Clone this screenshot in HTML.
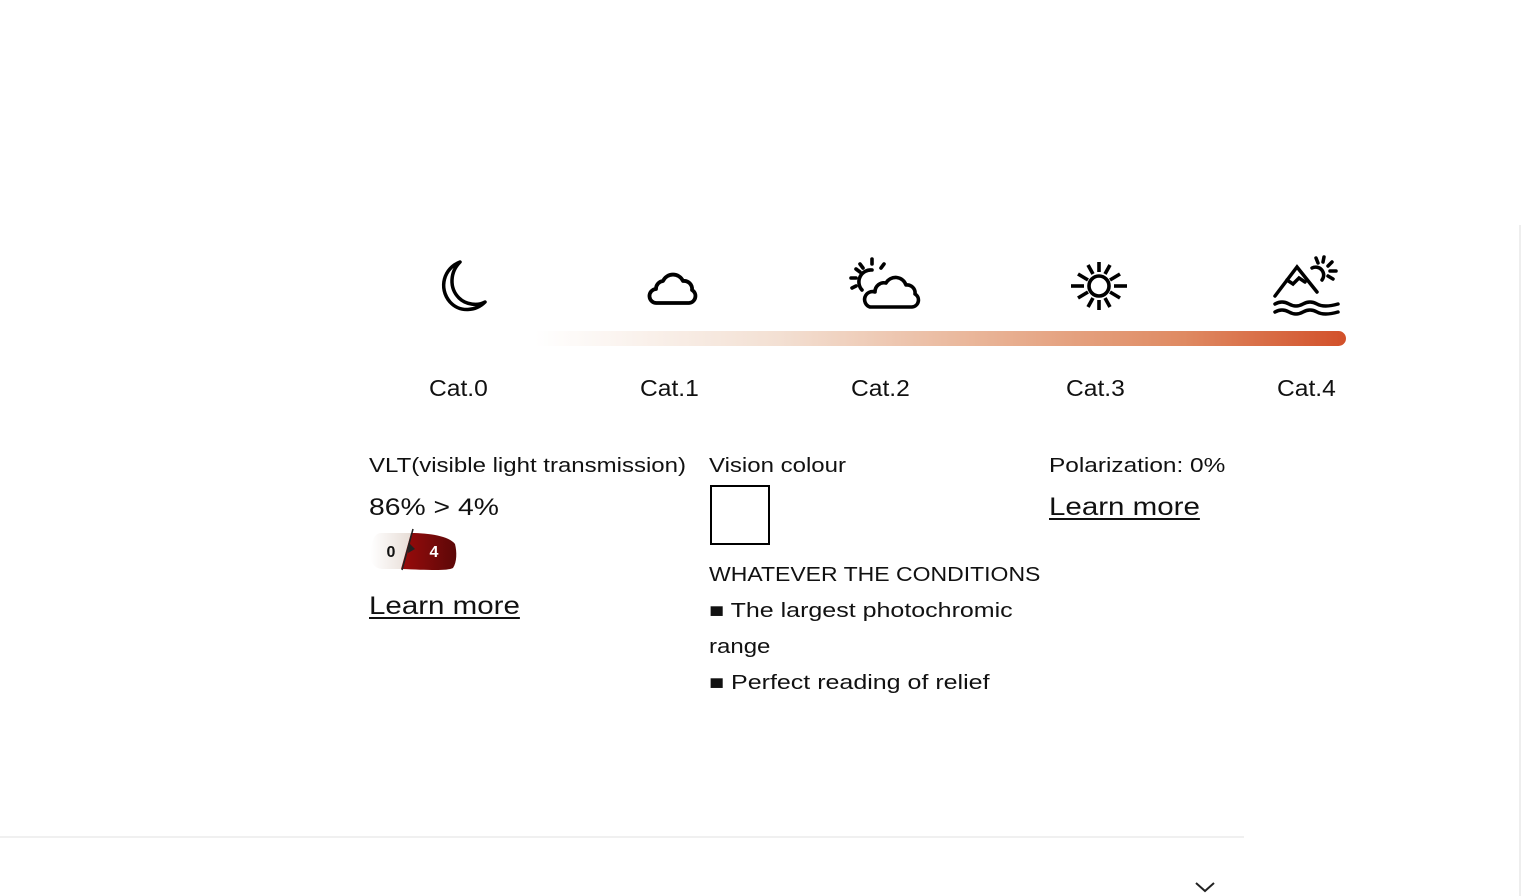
<!DOCTYPE html>
<html><head><style>
body{margin:0;width:1522px;height:896px;position:relative;background:#fff;font-family:"Liberation Sans",sans-serif;color:#111;overflow:hidden}
.a{position:absolute;white-space:nowrap;transform-origin:0 0}
.cat{font-size:23px;top:375px;transform:scaleX(1.07)}
.t{font-size:20px;transform:scaleX(1.2)}
.lm{font-size:25px;transform:scaleX(1.18)}
u{text-decoration:underline;text-decoration-thickness:2px;text-underline-offset:3px}
</style></head><body>
<div class="a" style="left:1519px;top:225px;width:2px;height:671px;background:#eee"></div>
<div class="a" style="left:0;top:836px;width:1244px;height:2px;background:#f0f0f0"></div>
<svg class="a" style="left:1194px;top:880px" width="22" height="14"><path d="M2 3 L11 11 L20 3" fill="none" stroke="#222" stroke-width="2"/></svg>

<div class="a" style="left:535px;top:331px;width:811px;height:15px;border-radius:0 8px 8px 0;background:linear-gradient(90deg,#fff,#f3e0d3 30%,#e9b497 55%,#df8a62 80%,#d2502a)"></div>

<svg class="a" style="left:436px;top:258px" width="56" height="58" viewBox="0 0 56 58"><path d="M24 4 C8 10 2 30 14 44 C24 55 40 53 49 44 C42 48 30 47 23 40 C13 30 14 14 24 4Z" fill="none" stroke="#000" stroke-width="3.5" stroke-linejoin="round"/></svg>
<svg class="a" style="left:645px;top:266px" width="54" height="44" viewBox="0 0 54 44"><path d="M12 37 H44 A7 7 0 0 0 47 24 A8 8 0 0 0 38 15 A11 11 0 0 0 18 15 A8 8 0 0 0 11 23 A7 7 0 0 0 12 37Z" fill="none" stroke="#000" stroke-width="3.8" stroke-linejoin="round"/></svg>
<svg class="a" style="left:848px;top:256px" width="74" height="58" viewBox="0 0 74 58"><g stroke="#000" stroke-width="3.6" fill="none" stroke-linecap="round"><path d="M24 14 A12 12 0 0 0 14 34"/><line x1="24" y1="3" x2="24" y2="8"/><line x1="12" y1="8" x2="15" y2="12"/><line x1="36" y1="8" x2="33" y2="12"/><line x1="3" y1="22" x2="8" y2="22"/><line x1="4" y1="32" x2="8" y2="30"/><line x1="8" y1="13" x2="12" y2="16"/><path d="M22 51 H64 A7 7 0 0 0 67 38 A8 8 0 0 0 58 29 A11 11 0 0 0 38 27 A9 9 0 0 0 27 36 A7 7 0 0 0 22 51Z" stroke-linejoin="round"/></g></svg>
<svg class="a" style="left:1068px;top:260px" width="62" height="52" viewBox="0 0 62 52"><g stroke="#000" stroke-width="3.6" fill="none"><circle cx="31" cy="26" r="10"/><line x1="3" y1="26" x2="16" y2="26"/><line x1="46" y1="26" x2="59" y2="26"/><line x1="31" y1="2" x2="31" y2="12"/><line x1="31" y1="40" x2="31" y2="50"/><line x1="20" y1="5" x2="25" y2="14"/><line x1="42" y1="5" x2="37" y2="14"/><line x1="20" y1="47" x2="25" y2="38"/><line x1="42" y1="47" x2="37" y2="38"/><line x1="10" y1="14" x2="20" y2="20"/><line x1="52" y1="14" x2="42" y2="20"/><line x1="10" y1="38" x2="20" y2="32"/><line x1="52" y1="38" x2="42" y2="32"/></g></svg>
<svg class="a" style="left:1272px;top:254px" width="70" height="66" viewBox="0 0 70 66"><g stroke="#000" stroke-width="3.5" fill="none" stroke-linecap="round"><path d="M3 42 L25 13 L45 38"/><path d="M15 26 L21 30 L27 24 L33 28"/><path d="M40 14 A8 8 0 0 1 50 26"/><line x1="44" y1="4" x2="46" y2="9"/><line x1="52" y1="3" x2="51" y2="8"/><line x1="60" y1="8" x2="56" y2="12"/><line x1="64" y1="17" x2="58" y2="17"/><line x1="61" y1="25" x2="56" y2="22"/><path d="M3 50 Q10 46 17 50 T31 50 T45 50 T66 50"/><path d="M3 58 Q10 54 17 58 T31 58 T45 58 T66 58"/></g></svg>

<div class="a cat" style="left:429px">Cat.0</div>
<div class="a cat" style="left:640px">Cat.1</div>
<div class="a cat" style="left:851px">Cat.2</div>
<div class="a cat" style="left:1066px">Cat.3</div>
<div class="a cat" style="left:1277px">Cat.4</div>

<div class="a t" style="left:369px;top:455px">VLT(visible light transmission)</div>
<div class="a" style="left:369px;top:494px;font-size:24px;transform:scaleX(1.18)">86% &gt; 4%</div>
<svg class="a" style="left:369px;top:528px" width="90" height="46" viewBox="0 0 90 46"><defs><linearGradient id="g0"><stop offset="0" stop-color="#fff"/><stop offset="1" stop-color="#e7ddd6"/></linearGradient><linearGradient id="g1"><stop offset="0" stop-color="#9a0b0b"/><stop offset="1" stop-color="#5c0808"/></linearGradient></defs><path d="M12 5 H42 L32 41 H14 C4 41 0 32 2 22 C3 12 6 5 12 5Z" fill="url(#g0)"/><path d="M42 5 C60 5 80 8 86 16 C88 24 88 34 84 40 C78 43 60 42 32 41Z" fill="url(#g1)"/><line x1="44" y1="1" x2="33" y2="42" stroke="#222" stroke-width="1.5"/><path d="M40 15 L46 21 L39 25Z" fill="#222"/><text x="22" y="29" font-family="Liberation Sans" font-weight="bold" font-size="16" text-anchor="middle" fill="#111">0</text><text x="65" y="29" font-family="Liberation Sans" font-weight="bold" font-size="16" text-anchor="middle" fill="#fff">4</text></svg>
<div class="a lm" style="left:369px;top:592px"><u>Learn more</u></div>

<div class="a t" style="left:709px;top:455px">Vision colour</div>
<div class="a" style="left:710px;top:485px;width:56px;height:56px;border:2px solid #000"></div>
<div class="a t" style="left:709px;top:564px;transform:scaleX(1.15)">WHATEVER THE CONDITIONS</div>
<div class="a t" style="left:709px;top:600px;transform:scaleX(1.25)">■ The largest photochromic</div>
<div class="a t" style="left:709px;top:636px">range</div>
<div class="a t" style="left:709px;top:672px;transform:scaleX(1.25)">■ Perfect reading of relief</div>

<div class="a t" style="left:1049px;top:455px;transform:scaleX(1.22)">Polarization: 0%</div>
<div class="a lm" style="left:1049px;top:493px"><u>Learn more</u></div>
</body></html>
